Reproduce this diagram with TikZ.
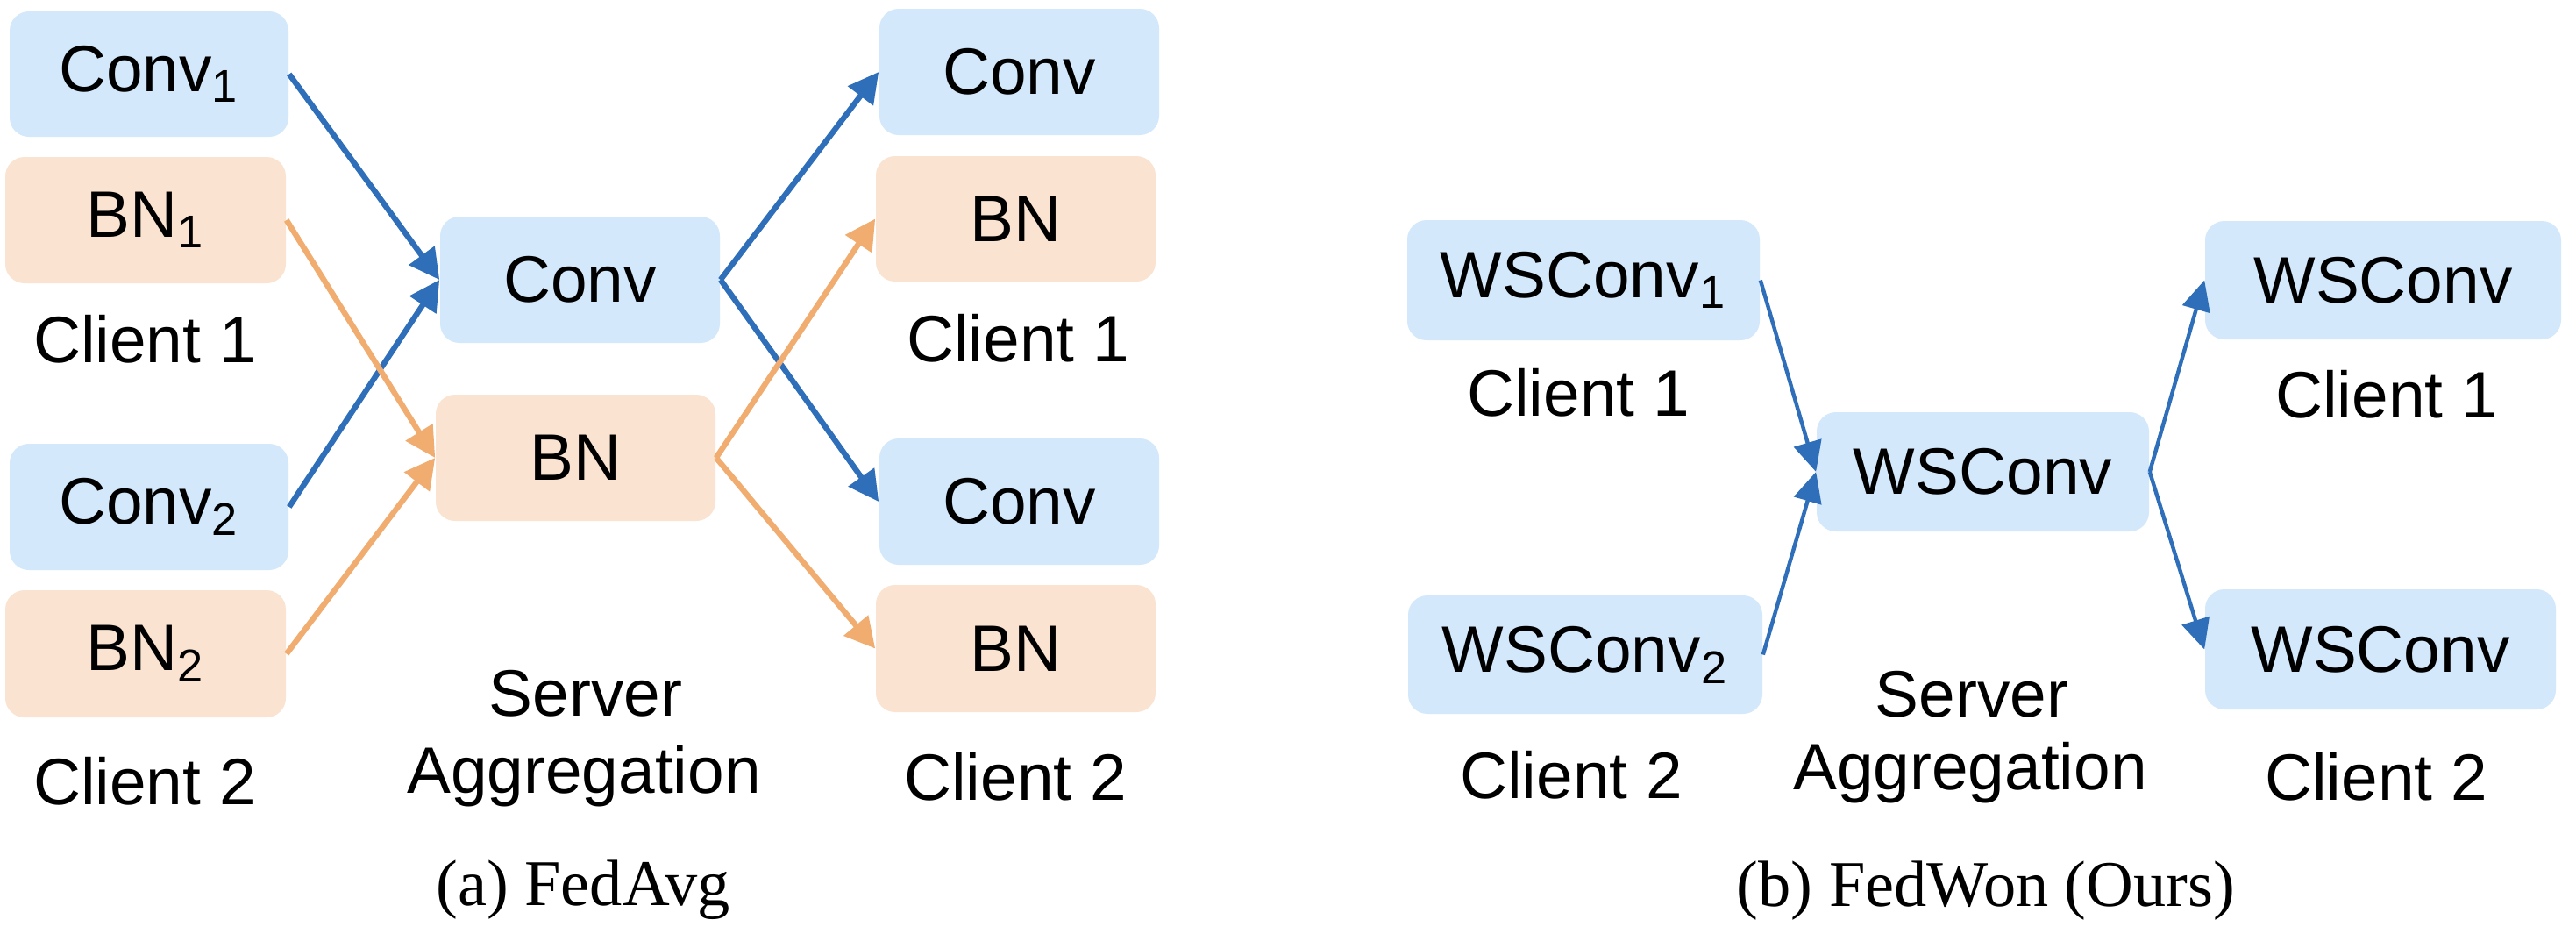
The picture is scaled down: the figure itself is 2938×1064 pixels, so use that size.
\documentclass[tikz,border=0pt]{standalone}
\usepackage{fontspec}
\setmainfont{Liberation Sans}
\newfontfamily\capfont{Liberation Serif}
\usetikzlibrary{arrows.meta}
\definecolor{boxblue}{HTML}{D3E8FB}
\definecolor{boxorange}{HTML}{FAE3D0}
\definecolor{arrblue}{HTML}{2F6FBA}
\definecolor{arrorange}{HTML}{F1AC70}
\begin{document}
\begin{tikzpicture}[x=0.25pt,y=-0.25pt,
  lab/.style={font=\fontsize{18.7}{22}\selectfont, inner sep=0pt, anchor=base},
  captext/.style={font=\capfont\fontsize{18.6}{22}\selectfont, inner sep=0pt, anchor=base},
  blk/.style={rounded corners=5.5pt, inner sep=0pt, font=\fontsize{18.7}{22}\selectfont},
  bluebox/.style={blk, fill=boxblue},
  orangebox/.style={blk, fill=boxorange},
  sz/.style 2 args={minimum width=#1*0.25pt, minimum height=#2*0.25pt},
  bluearr/.style={draw=arrblue, line width=1.6pt, -{Triangle[length=8.6pt,width=8.8pt]}},
  orangearr/.style={draw=arrorange, line width=1.6pt, -{Triangle[length=8.6pt,width=8.8pt]}},
  thinarr/.style={draw=arrblue, line width=1.1pt, -{Triangle[length=8.6pt,width=8pt]}}
]
\path[use as bounding box, fill=white] (0,0) rectangle (2938,1064);

% ---------- (a) FedAvg ----------
\node[bluebox, sz={318}{143}] (c1conv) at (170,84.5) {Conv\textsubscript{1}};
\node[orangebox, sz={320}{144}] (c1bn) at (166,251) {BN\textsubscript{1}};
\node[lab] (c1lab) at (165,413) {Client 1};
\node[bluebox, sz={318}{144}] (c2conv) at (170,578) {Conv\textsubscript{2}};
\node[orangebox, sz={320}{145}] (c2bn) at (166,745.5) {BN\textsubscript{2}};
\node[lab] (c2lab) at (165,917) {Client 2};

\node[bluebox, sz={319}{144}] (sconv) at (661.5,319) {Conv};
\node[orangebox, sz={319}{144}] (sbn) at (656.5,522) {BN};
\node[lab] (sl1) at (668,816) {Server};
\node[lab] (sl2) at (666,904) {Aggregation};

\node[bluebox, sz={319}{144}] (r1conv) at (1162.5,82) {Conv};
\node[orangebox, sz={319}{143}] (r1bn) at (1158.5,249.5) {BN};
\node[lab] (r1lab) at (1161,412) {Client 1};
\node[bluebox, sz={319}{144}] (r2conv) at (1162.5,572) {Conv};
\node[orangebox, sz={319}{145}] (r2bn) at (1158.5,739.5) {BN};
\node[lab] (r2lab) at (1158,912) {Client 2};

\node[captext] (capa) at (665,1032) {(a) FedAvg};

\draw[bluearr] (c1conv.east) -- (sconv.west);
\draw[bluearr] (c2conv.east) -- (sconv.west);
\draw[bluearr] (sconv.east) -- (r1conv.west);
\draw[bluearr] (sconv.east) -- (r2conv.west);
\draw[orangearr] (c1bn.east) -- (sbn.west);
\draw[orangearr] (c2bn.east) -- (sbn.west);
\draw[orangearr] (sbn.east) -- (r1bn.west);
\draw[orangearr] (sbn.east) -- (r2bn.west);

% ---------- (b) FedWon ----------
\node[bluebox, sz={402}{137}] (w1) at (1806,319.5) {WSConv\textsubscript{1}};
\node[lab] (w1lab) at (1800,474) {Client 1};
\node[bluebox, sz={404}{135}] (w2) at (1808,746.5) {WSConv\textsubscript{2}};
\node[lab] (w2lab) at (1792,910) {Client 2};

\node[bluebox, sz={379}{136}] (ws) at (2261.5,538) {WSConv};
\node[lab] (wsl1) at (2249,817) {Server};
\node[lab] (wsl2) at (2247,900) {Aggregation};

\node[bluebox, sz={406}{135}] (wr1) at (2718,319.5) {WSConv};
\node[lab] (wr1lab) at (2722,476) {Client 1};
\node[bluebox, sz={400}{137}] (wr2) at (2715,740.5) {WSConv};
\node[lab] (wr2lab) at (2710,912) {Client 2};

\node[captext] (capb) at (2265,1033) {(b) FedWon (Ours)};

\draw[thinarr] (w1.east) -- (ws.west);
\draw[thinarr] (w2.east) -- (ws.west);
\draw[thinarr] (ws.east) -- (wr1.west);
\draw[thinarr] (ws.east) -- (wr2.west);
\end{tikzpicture}
\end{document}
